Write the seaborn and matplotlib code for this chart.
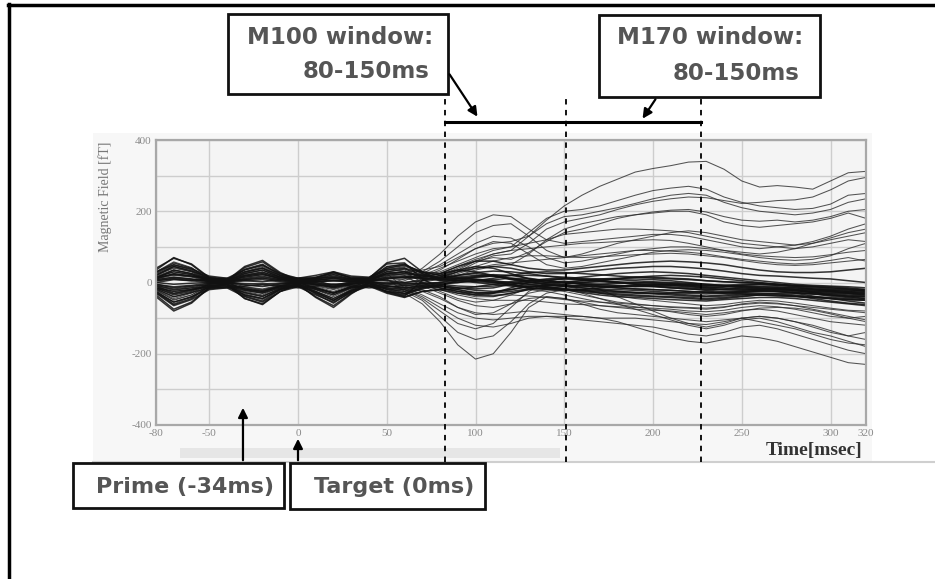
import numpy as np
import pandas as pd
import matplotlib
matplotlib.use("Agg")
import matplotlib.pyplot as plt
from matplotlib.patches import Rectangle, FancyArrowPatch
from matplotlib.lines import Line2D
import seaborn as sns

# ---------------- data (fT), sampled every 10 ms from -80 to 320 ms ----------------
time_ms = list(range(-80, 321, 10))

pos_large = [
    [15, 35, 25, 5, 0, 20, 30, 10, 0, -5, -15, -5, 5, 25, 30, 35, 45, 70, 95, 110, 115, 130, 175, 215, 245, 270, 290, 310, 320, 328, 338, 340, 318, 285, 268, 272, 268, 262, 285, 308, 312],
    [-20, -45, -30, -5, 0, -25, -35, -12, 0, -20, -40, -15, 5, 10, 15, 20, 30, 50, 70, 90, 100, 140, 180, 200, 205, 215, 230, 245, 258, 265, 270, 262, 240, 225, 215, 210, 205, 208, 220, 245, 250],
    [20, 40, 30, 5, 0, 25, 35, 15, 0, 5, 15, 5, 5, 35, 45, 30, 20, 40, 60, 80, 90, 130, 165, 185, 190, 200, 210, 222, 235, 245, 250, 245, 225, 210, 200, 195, 190, 195, 205, 225, 235],
    [10, 20, 15, 2, -2, 12, 18, 8, 0, 0, 5, 2, 3, 18, 22, 12, 10, 30, 55, 75, 80, 110, 150, 170, 180, 190, 205, 218, 228, 235, 240, 238, 230, 222, 225, 230, 232, 240, 260, 285, 295],
    [-12, -25, -18, -3, 2, -12, -20, -8, 2, -12, -25, -8, 3, -5, 0, 8, 15, 35, 60, 70, 65, 85, 115, 140, 150, 165, 180, 190, 198, 203, 205, 198, 185, 175, 172, 175, 170, 175, 185, 200, 205],
    [25, 50, 35, 8, 3, 30, 45, 18, 3, 8, 18, 8, 8, 40, 50, 25, 5, 20, 35, 45, 50, 80, 120, 150, 165, 175, 185, 190, 195, 200, 200, 190, 170, 160, 155, 160, 165, 170, 180, 195, 180],
]

pos_mid = [
    [-25, -60, -40, -10, -5, -35, -45, -18, -3, -30, -50, -22, 2, -5, 10, 40, 80, 130, 170, 190, 185, 150, 120, 110, 115, 120, 125, 130, 135, 135, 130, 120, 110, 100, 95, 100, 105, 115, 130, 150, 165],
    [30, 58, 42, 10, 4, 38, 52, 22, 4, 12, 22, 10, 10, 45, 50, 30, 60, 100, 140, 160, 165, 130, 90, 70, 80, 95, 110, 120, 130, 140, 145, 140, 130, 120, 115, 110, 105, 110, 120, 130, 140],
    [12, 25, 18, 4, 0, 15, 22, 10, 0, 2, 8, 4, 5, 22, 25, 20, 40, 60, 80, 95, 100, 110, 120, 135, 140, 145, 150, 150, 148, 145, 140, 130, 120, 110, 105, 100, 95, 100, 110, 120, 115],
    [-15, -35, -25, -5, 0, -20, -28, -10, 0, -15, -30, -10, 4, -8, 5, 25, 50, 80, 110, 130, 125, 100, 70, 55, 60, 70, 80, 90, 95, 100, 100, 95, 90, 85, 80, 85, 95, 110, 125, 140, 150],
    [18, 35, 25, 6, 2, 22, 30, 12, 2, 6, 12, 6, 6, 30, 35, 10, 25, 45, 65, 80, 90, 95, 100, 105, 110, 112, 115, 118, 120, 118, 110, 100, 90, 80, 75, 72, 70, 72, 78, 85, 90],
    [-8, -18, -12, -2, 2, -8, -12, -5, 2, -8, -18, -5, 4, 5, 10, 15, 35, 65, 95, 115, 110, 80, 50, 40, 45, 55, 65, 75, 85, 90, 92, 90, 85, 78, 70, 65, 62, 65, 75, 95, 110],
    [22, 45, 32, 8, 2, 28, 40, 15, 2, 8, 18, 8, 8, 38, 42, 5, 15, 30, 45, 60, 70, 75, 75, 72, 70, 72, 75, 78, 80, 82, 80, 75, 70, 62, 55, 50, 48, 50, 55, 60, 65],
    [-18, -40, -28, -6, 0, -22, -30, -12, 0, -18, -35, -12, 3, -10, -12, 0, 10, 25, 40, 50, 55, 60, 65, 70, 75, 80, 85, 90, 90, 88, 85, 80, 72, 65, 60, 55, 52, 55, 62, 70, 60],
]

near_zero = [
    [28, 55, 40, 9, 4, 36, 50, 20, 4, 9, 22, 9, 9, 44, 52, 25, 10, 20, 25, 20, 10, 5, 5, 10, 15, 20, 25, 28, 30, 28, 25, 20, 15, 10, 5, 0, -5, -8, -10, -12, -15],
    [-28, -62, -45, -11, -4, -38, -52, -20, -4, -32, -58, -25, 1, -20, -32, -15, -5, -10, -12, -10, -5, 0, -5, -10, -15, -18, -20, -22, -25, -28, -30, -32, -30, -28, -25, -25, -28, -32, -35, -38, -40],
    [8, 15, 10, 2, 0, 8, 12, 5, 0, 2, 5, 2, 3, 12, 15, 10, 15, 30, 40, 45, 40, 30, 25, 25, 30, 35, 40, 42, 45, 45, 42, 38, 32, 25, 20, 18, 15, 12, 10, 5, 0],
    [-5, -12, -8, -2, 0, -6, -10, -4, 0, -6, -12, -4, 2, -3, -5, -2, 0, 5, 8, 5, 0, -5, -8, -10, -8, -5, -2, 0, 0, -2, -5, -8, -10, -12, -15, -18, -20, -22, -25, -28, -30],
    [35, 70, 50, 12, 5, 42, 58, 25, 5, 12, 28, 12, 12, 52, 55, 10, -15, -25, -30, -28, -20, -10, -12, -18, -25, -30, -35, -38, -40, -42, -45, -48, -45, -40, -35, -35, -38, -42, -45, -48, -50],
    [-35, -75, -55, -14, -6, -45, -60, -25, -6, -40, -65, -30, -2, -25, -38, 5, 20, 35, 45, 40, 25, 10, 0, -5, 0, 5, 10, 15, 18, 20, 18, 15, 10, 5, 0, -5, -8, -10, -12, -15, -20],
    [15, 30, 22, 5, 2, 18, 25, 10, 2, 5, 12, 5, 5, 25, 30, 15, 5, 10, 15, 18, 20, 20, 18, 15, 12, 10, 8, 5, 2, 0, -2, -5, -8, -10, -12, -15, -18, -20, -22, -25, -28],
    [-15, -32, -22, -5, 0, -18, -25, -10, 0, -15, -30, -12, 2, -10, -15, -10, -8, -15, -18, -15, -5, 5, 10, 12, 10, 5, 0, -5, -10, -15, -18, -20, -18, -15, -15, -18, -22, -28, -32, -35, -38],
    [5, 10, 5, 0, -2, 5, 8, 2, -2, -5, -10, -3, 3, 10, 15, 15, 25, 45, 60, 60, 50, 40, 35, 35, 40, 45, 50, 55, 58, 60, 58, 55, 50, 42, 35, 30, 28, 28, 30, 35, 40],
    [-40, -80, -58, -15, -5, -45, -62, -25, -5, -42, -70, -32, -2, -28, -40, -25, -20, -30, -35, -30, -15, 0, 5, 0, -5, -10, -15, -18, -20, -22, -25, -28, -28, -25, -22, -25, -30, -38, -45, -52, -58],
    [40, 68, 52, 14, 6, 45, 62, 28, 6, 14, 30, 12, 12, 55, 68, 30, 8, 12, 10, 5, -5, -15, -20, -22, -20, -15, -10, -8, -5, -5, -8, -12, -15, -18, -20, -22, -25, -28, -30, -32, -35],
    [0, -5, -2, 0, 0, -3, -4, -2, 0, -2, -5, -2, 1, 0, -2, -2, -2, 0, 5, 12, 20, 28, 30, 28, 25, 22, 18, 15, 12, 10, 8, 5, 2, 0, -2, -5, -8, -12, -15, -18, -22],
]

band_extra = [
    [10, 25, 18, 12, 8, 20, 28, 15, 10, 5, -8, 2, 10, 25, 30, 20, 15, 10, 5, 8, 12, 10, 5, 0, -5, -8, -10, -12, -10, -8, -10, -15, -20, -22, -20, -18, -20, -25, -28, -30, -32],
    [-10, -30, -20, -12, -10, -22, -30, -15, -8, -20, -35, -15, -8, -18, -25, -12, -5, 0, 5, 2, -5, -10, -15, -18, -20, -22, -25, -28, -30, -32, -35, -38, -35, -32, -30, -32, -35, -40, -42, -45, -48],
    [20, 45, 32, 15, 10, 30, 40, 20, 12, 15, 25, 15, 12, 35, 40, 28, 20, 15, 8, 0, -8, -12, -10, -5, 0, 2, 0, -3, -5, -8, -12, -15, -12, -8, -5, -8, -12, -18, -22, -25, -22],
    [-18, -40, -28, -15, -12, -28, -38, -18, -10, -25, -45, -22, -10, -25, -30, -15, -10, -15, -22, -25, -20, -12, -8, -10, -15, -20, -25, -28, -30, -30, -28, -25, -28, -32, -35, -38, -40, -42, -45, -48, -50],
    [5, 12, 8, 5, 3, 10, 15, 8, 5, -5, -15, -5, 5, 15, 18, 12, 8, 5, 2, 0, 2, 5, 8, 10, 8, 5, 0, -5, -10, -12, -15, -18, -20, -20, -18, -15, -15, -18, -20, -22, -25],
    [-5, -15, -10, -8, -6, -15, -22, -10, -5, -15, -30, -12, -5, -10, -15, -8, 0, 10, 18, 22, 20, 12, 5, 0, -2, -5, -8, -10, -12, -15, -18, -22, -25, -25, -22, -20, -22, -28, -35, -40, -45],
    [12, 35, 25, 10, 6, 25, 35, 15, 6, 0, -12, 0, 8, 30, 38, 22, 10, 5, 0, -5, -10, -15, -18, -20, -22, -25, -28, -30, -32, -35, -38, -40, -38, -35, -32, -30, -30, -32, -35, -38, -40],
    [-25, -55, -40, -18, -12, -35, -45, -20, -10, -28, -50, -25, -8, -25, -35, -18, -8, 5, 15, 18, 12, 5, 0, 2, 5, 8, 10, 10, 8, 5, 0, -5, -8, -10, -10, -12, -15, -20, -25, -30, -35],
    [0, 8, 5, 10, 12, 5, 2, 8, 12, 10, 5, 8, 12, 5, 0, 5, 10, 15, 20, 18, 10, 2, -5, -8, -10, -12, -12, -10, -8, -5, -5, -8, -10, -15, -18, -20, -22, -25, -25, -28, -30],
    [-8, -20, -15, -15, -15, -10, -5, -10, -15, -10, -5, -10, -15, -12, -8, -5, -10, -20, -28, -30, -25, -18, -15, -18, -22, -28, -32, -35, -38, -40, -42, -45, -42, -38, -35, -35, -38, -45, -52, -58, -62],
    [30, 50, 38, 18, 12, 35, 48, 25, 12, 20, 30, 18, 15, 40, 48, 30, 25, 35, 30, 20, 8, 0, -2, 0, 5, 10, 12, 15, 15, 12, 10, 5, 2, 0, -2, -5, -10, -15, -18, -20, -25],
    [-30, -65, -48, -20, -15, -40, -55, -25, -12, -35, -55, -28, -10, -30, -42, -25, -20, -18, -12, -5, 0, -5, -12, -20, -28, -35, -40, -42, -45, -48, -50, -52, -48, -45, -42, -42, -45, -50, -55, -60, -65],
    [15, 22, 18, 8, 5, 15, 22, 12, 8, 12, 15, 10, 8, 20, 25, 18, 12, 20, 28, 32, 30, 25, 18, 12, 8, 5, 2, 0, -2, -5, -8, -10, -8, -5, -5, -8, -10, -12, -15, -18, -20],
    [-15, -25, -20, -10, -8, -18, -25, -12, -8, -18, -28, -15, -8, -15, -20, -12, -15, -25, -35, -38, -30, -20, -15, -12, -10, -12, -15, -18, -20, -22, -25, -28, -30, -28, -25, -25, -28, -32, -38, -42, -45],
]

neg_mid = [
    [20, 42, 30, 7, 2, 25, 35, 14, 2, 6, 14, 6, 6, 30, 20, -10, -30, -50, -65, -70, -60, -45, -40, -45, -55, -65, -70, -75, -78, -80, -85, -90, -85, -78, -75, -80, -90, -100, -110, -115, -120],
    [-10, -22, -15, -3, 0, -12, -18, -7, 0, -10, -20, -7, 2, -5, -8, -10, -20, -35, -45, -50, -50, -50, -55, -60, -62, -65, -68, -70, -72, -75, -80, -82, -78, -70, -65, -68, -75, -85, -95, -100, -95],
    [-30, -55, -42, -10, -3, -35, -48, -18, -3, -30, -52, -20, 0, -20, -25, -20, -40, -70, -90, -85, -60, -30, -20, -25, -35, -45, -55, -60, -65, -70, -72, -75, -70, -60, -55, -58, -65, -75, -85, -95, -105],
    [12, 22, 16, 4, 1, 12, 18, 8, 1, 3, 8, 3, 4, 15, 12, 0, -10, -20, -30, -35, -35, -38, -42, -48, -52, -55, -58, -62, -65, -68, -70, -72, -68, -62, -58, -60, -65, -70, -75, -80, -85],
    [-22, -48, -35, -8, -2, -28, -40, -15, -2, -25, -45, -18, 1, -15, -18, -8, -15, -30, -40, -40, -30, -20, -25, -35, -45, -55, -62, -68, -75, -82, -90, -95, -90, -80, -72, -70, -72, -78, -88, -100, -110],
    [25, 48, 36, 8, 3, 30, 42, 18, 3, 8, 18, 8, 8, 38, 30, 0, -25, -45, -55, -50, -35, -15, -5, -10, -20, -30, -38, -45, -50, -55, -60, -65, -62, -55, -50, -52, -58, -65, -72, -78, -80],
]

neg_large = [
    [-20, -50, -35, -8, -2, -30, -40, -15, -2, -25, -50, -20, 0, -15, -30, -60, -110, -175, -215, -200, -140, -70, -40, -45, -60, -75, -85, -90, -95, -100, -105, -110, -105, -100, -110, -120, -130, -145, -160, -170, -175],
    [15, 30, 22, 5, 1, 18, 25, 10, 1, 5, 12, 5, 5, 10, -25, -50, -95, -140, -160, -150, -110, -60, -30, -20, -30, -45, -60, -75, -90, -105, -120, -130, -120, -105, -100, -110, -125, -140, -150, -165, -180],
    [-15, -35, -25, -5, 0, -20, -28, -10, 0, -15, -30, -10, 2, -8, -20, -40, -70, -100, -120, -125, -115, -100, -95, -95, -95, -100, -110, -125, -140, -155, -165, -170, -160, -150, -155, -165, -180, -195, -210, -225, -230],
    [22, 45, 32, 8, 2, 28, 40, 15, 2, 6, 15, 6, 6, 25, -15, -35, -60, -85, -100, -105, -100, -95, -95, -100, -105, -110, -115, -120, -125, -135, -145, -150, -140, -125, -120, -130, -145, -160, -175, -190, -200],
    [-25, -55, -40, -10, -3, -32, -45, -18, -3, -28, -50, -22, 0, -18, -20, -45, -80, -115, -130, -115, -70, -25, 0, 5, -5, -20, -40, -60, -80, -100, -115, -125, -115, -100, -95, -100, -110, -120, -135, -150, -160],
    [8, 15, 10, 2, 0, 8, 12, 5, 0, 2, 5, 2, 3, 8, -10, -25, -45, -70, -85, -90, -85, -80, -85, -90, -95, -100, -100, -100, -105, -110, -115, -118, -110, -100, -95, -100, -110, -125, -140, -150, -140],
]

x_tick_values = [-80, -50, 0, 50, 100, 150, 200, 250, 300, 320]
y_tick_values = [-400, -300, -200, -100, 0, 100, 200, 300, 400]
y_tick_labels = ["-400", "", "-200", "", "0", "", "200", "", "400"]

window_edges_ms = [83, 151, 227]       # dashed window boundaries
prime_arrow_ms = -31
target_arrow_ms = 0

# ---------------- long tables ----------------
def long_table(groups, start=0):
    rows = []
    ch = start
    for group in groups:
        for trace in group:
            for t, v in zip(time_ms, trace):
                rows.append({"time": t, "field": v, "channel": ch})
            ch += 1
    return pd.DataFrame(rows), ch

df_spread, n = long_table((pos_large, pos_mid, neg_mid, neg_large))
df_band, _ = long_table((near_zero, band_extra), start=n)

# ---------------- figure ----------------
W, H = 935, 579
fig = plt.figure(figsize=(W / 100, H / 100), dpi=100)
fig.patch.set_facecolor("white")

def fx(px):
    return px / W

def fy(py):
    return 1 - py / H

# light panel behind the plot
fig.patches.append(Rectangle((fx(93), fy(462)), fx(872) - fx(93), fy(133) - fy(462),
                             transform=fig.transFigure, facecolor="#f7f7f7",
                             edgecolor="none", zorder=-3))
# scrollbar-like strip
fig.patches.append(Rectangle((fx(180), fy(458)), fx(560) - fx(180), fy(448) - fy(458),
                             transform=fig.transFigure, facecolor="#e6e6e6",
                             edgecolor="none", zorder=-2))
fig.lines.append(Line2D([fx(93), fx(935)], [fy(462), fy(462)], transform=fig.transFigure,
                        color="#cfcfcf", lw=1.5, zorder=-2))

ax = fig.add_axes([fx(156), fy(425), fx(866) - fx(156), fy(140) - fy(425)])
ax.set_facecolor("#f4f4f4")
ax.set_zorder(1)

sns.lineplot(data=df_spread, x="time", y="field", units="channel", estimator=None,
             color="#2a2a2a", linewidth=0.75, alpha=0.8, legend=False, ax=ax)
sns.lineplot(data=df_band, x="time", y="field", units="channel", estimator=None,
             color="#111111", linewidth=1.1, alpha=0.85, legend=False, ax=ax)

ax.set_xlim(-80, 320)
ax.set_ylim(-400, 400)
ax.set_xticks(x_tick_values)
ax.set_xticklabels([str(v) for v in x_tick_values])
ax.set_yticks(y_tick_values)
ax.set_yticklabels(y_tick_labels)
ax.grid(True, color="#cdcdcd", linewidth=1.0)
ax.set_axisbelow(True)
for s in ax.spines.values():
    s.set_color("#a8a8a8")
    s.set_linewidth(1.6)
ax.tick_params(length=0, pad=3, labelsize=8, labelcolor="#8a8a8a")
for lab in ax.get_xticklabels() + ax.get_yticklabels():
    lab.set_family("Liberation Serif")
ax.set_xlabel("")
ax.set_ylabel("Magnetic Field [fT]", family="Liberation Serif", fontsize=10,
              color="#777777")
ax.yaxis.set_label_coords(-0.062, 0.80)

fig.text(fx(814), fy(450), "Time[msec]", family="Liberation Serif", fontweight="bold",
         fontsize=14, color="#333333", ha="center", va="center")

# dashed window lines extending outside the axes
for t in window_edges_ms:
    ax.axvline(t, ymin=-0.13, ymax=1.15, color="black", linestyle=(0, (3, 3)),
               linewidth=1.3, clip_on=False, zorder=5)
# bracket over the windows
ax.plot([window_edges_ms[0], window_edges_ms[2]], [1.063, 1.063], color="black",
        linewidth=2.2, transform=ax.get_xaxis_transform(), clip_on=False, zorder=6)

# ---------------- annotation boxes ----------------
def box(x0, y0, x1, y1, lw=2):
    fig.patches.append(Rectangle((fx(x0), fy(y1)), fx(x1) - fx(x0), fy(y0) - fy(y1),
                                 transform=fig.transFigure, facecolor="white",
                                 edgecolor="#111111", linewidth=lw, zorder=3))

txt_kw = dict(family="DejaVu Sans", fontweight="bold", color="#555555", zorder=4)

box(228, 14, 448, 94)
fig.text(fx(433), fy(37), "M100 window:", ha="right", va="center", fontsize=16.5, **txt_kw)
fig.text(fx(429), fy(71), "80-150ms", ha="right", va="center", fontsize=16.5, **txt_kw)

box(599, 15, 820, 97)
fig.text(fx(803), fy(38), "M170 window:", ha="right", va="center", fontsize=16.5, **txt_kw)
fig.text(fx(799), fy(74), "80-150ms", ha="right", va="center", fontsize=16.5, **txt_kw)

box(73, 463, 284, 508)
fig.text(fx(185), fy(487), "Prime (-34ms)", ha="center", va="center", fontsize=16, **txt_kw)
box(290, 463, 485, 509)
fig.text(fx(394), fy(487), "Target (0ms)", ha="center", va="center", fontsize=16, **txt_kw)

arrow_kw = dict(arrowstyle="-|>", color="black", lw=1.6, mutation_scale=14)
fig.add_artist(FancyArrowPatch((fx(448), fy(72)), (fx(479), fy(119)),
               transform=fig.transFigure, zorder=6, **arrow_kw))
fig.add_artist(FancyArrowPatch((fx(657), fy(97)), (fx(641), fy(121)),
               transform=fig.transFigure, zorder=6, **arrow_kw))

# arrows from Prime / Target boxes up into the plot
ax.annotate("", xy=(prime_arrow_ms, fy(405)), xytext=(prime_arrow_ms, fy(463)),
            xycoords=("data", "figure fraction"), textcoords=("data", "figure fraction"),
            arrowprops=dict(arrowstyle="-|>", color="black", lw=1.6, mutation_scale=14),
            annotation_clip=False, zorder=7)
ax.annotate("", xy=(target_arrow_ms, fy(436)), xytext=(target_arrow_ms, fy(463)),
            xycoords=("data", "figure fraction"), textcoords=("data", "figure fraction"),
            arrowprops=dict(arrowstyle="-|>", color="black", lw=1.6, mutation_scale=14),
            annotation_clip=False, zorder=7)

# outer frame (top and left edges)
fig.lines.append(Line2D([fx(8), fx(935)], [fy(4.5), fy(4.5)], transform=fig.transFigure,
                        color="black", lw=2.5, zorder=8))
fig.lines.append(Line2D([fx(8.5), fx(8.5)], [fy(4), fy(579)], transform=fig.transFigure,
                        color="black", lw=2.5, zorder=8))

fig.savefig("out.png", dpi=100, facecolor="white")
